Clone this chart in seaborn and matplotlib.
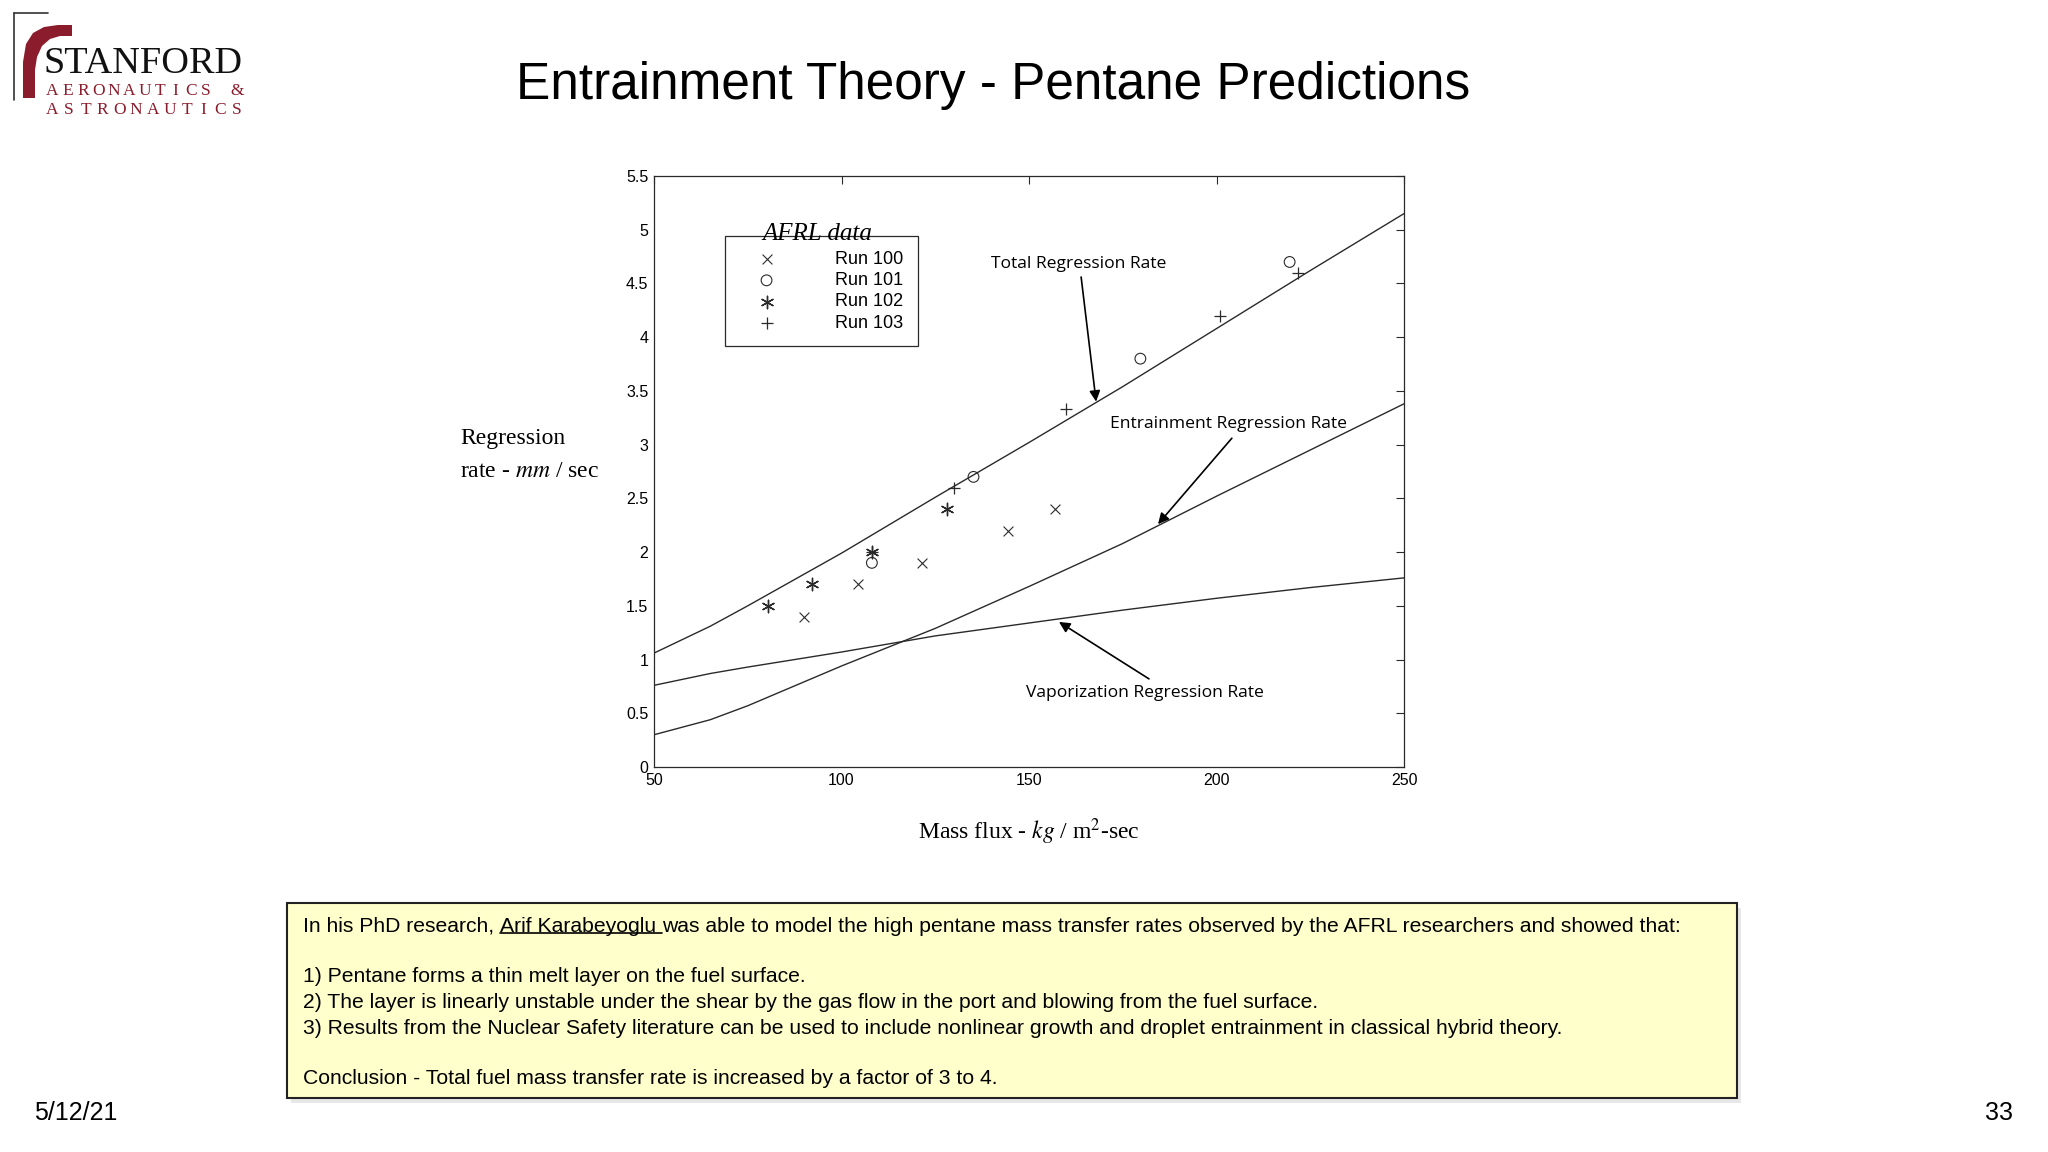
import numpy as np
import matplotlib
matplotlib.use("Agg")
import matplotlib.pyplot as plt
import seaborn as sns
from matplotlib.patches import Rectangle, Polygon
from matplotlib.lines import Line2D

# model curves
mass_flux = [50, 65, 75, 100, 125, 150, 175, 200, 225, 250]
vaporization = [0.76, 0.87, 0.93, 1.07, 1.22, 1.34, 1.46, 1.57, 1.67, 1.76]
entrainment = [0.30, 0.44, 0.57, 0.94, 1.29, 1.68, 2.08, 2.52, 2.95, 3.38]
total = [1.06, 1.31, 1.50, 1.99, 2.51, 3.02, 3.54, 4.08, 4.62, 5.15]

# AFRL data
run100_x = [90.1, 104.4, 121.4, 144.4, 156.8]
run100_y = [1.40, 1.70, 1.90, 2.20, 2.40]
run101_x = [108.1, 135.2, 179.7, 219.5]
run101_y = [1.90, 2.70, 3.80, 4.70]
run102_x = [80.5, 92.2, 108.0, 128.0]
run102_y = [1.50, 1.70, 2.00, 2.40]
run103_x = [108.0, 129.9, 159.9, 201.0, 221.6]
run103_y = [2.00, 2.60, 3.33, 4.20, 4.60]

x_ticks = [50, 100, 150, 200, 250]
y_ticks = [0, 0.5, 1, 1.5, 2, 2.5, 3, 3.5, 4, 4.5, 5, 5.5]

box_lines = [
    "1) Pentane forms a thin melt layer on the fuel surface.",
    "2) The layer is linearly unstable under the shear by the gas flow in the port and blowing from the fuel surface.",
    "3) Results from the Nuclear Safety literature can be used to include nonlinear growth and droplet entrainment in classical hybrid theory.",
]

sns.set_theme(style="white")
plt.rcParams["font.family"] = ["Liberation Sans", "DejaVu Sans"]
plt.rcParams["mathtext.fontset"] = "stix"
plt.rcParams["text.color"] = "black"

W, H = 2048, 1152
fig = plt.figure(figsize=(W / 100, H / 100), dpi=100)
fig.patch.set_facecolor("white")


def px(x, y):
    return x / W, 1 - y / H


ink = "#2a2a2a"
ax = fig.add_axes([654 / W, 1 - 767 / H, 750 / W, 591 / H])

for yy in [total, entrainment, vaporization]:
    sns.lineplot(x=mass_flux, y=yy, color=ink, lw=1.0, ax=ax, legend=False)

sns.scatterplot(x=run100_x, y=run100_y, marker="x", s=50, color=ink, linewidth=0.8, label="Run 100", ax=ax)
sns.scatterplot(x=run101_x, y=run101_y, marker="o", s=60, facecolor="none", edgecolor=ink, linewidth=0.8, label="Run 101", ax=ax)
sns.scatterplot(x=run102_x, y=run102_y, marker=(6, 2, 0), s=80, color=ink, linewidth=1.0, label="Run 102", ax=ax)
sns.scatterplot(x=run103_x, y=run103_y, marker="+", s=80, color=ink, linewidth=0.9, label="Run 103", ax=ax)

ax.set_xlim(50, 250)
ax.set_ylim(0, 5.5)
ax.set_xticks(x_ticks)
ax.set_xticklabels([f"{v:g}" for v in x_ticks])
ax.set_yticks(y_ticks)
ax.set_yticklabels([f"{v:g}" for v in y_ticks])
ax.tick_params(direction="in", top=True, right=True, length=6, width=0.8,
               color=ink, labelsize=11.5, pad=4, labelcolor="black")
for s in ax.spines.values():
    s.set_color(ink)
    s.set_linewidth(0.9)

ax.set_ylabel("Regression\nrate - $\\mathit{mm}$ / sec", rotation=0, ha="left", va="center",
              fontsize=17, family="Liberation Serif", linespacing=1.75, color="black")
ax.yaxis.set_label_coords(-0.2587, 0.528)
ax.set_xlabel("Mass flux - $\\mathit{kg}$ / m$^2$-sec", fontsize=17, family="Liberation Serif",
              color="black", va="center")
ax.xaxis.set_label_coords(0.5, -0.11)

leg = ax.legend(loc="upper left", bbox_to_anchor=(0.0947, 0.898), borderaxespad=0,
                frameon=True, fancybox=False, framealpha=1, edgecolor=ink,
                prop={"family": "Liberation Sans", "size": 13},
                borderpad=0.8, handlelength=3.0, handletextpad=2.3, labelspacing=0.24)
leg.get_frame().set_linewidth(0.9)
ax.text(0.2173, 0.902, "AFRL data", transform=ax.transAxes, ha="center", va="center",
        fontsize=18, family="Liberation Serif", style="italic", zorder=10)

arrow = dict(arrowstyle="-|>", color="black", lw=1.2, mutation_scale=16, shrinkA=0, shrinkB=0)
ann_font = dict(family="Open Sans", fontsize=12.6, ha="center", va="center")
ax.text(163.3, 4.68, "Total Regression Rate", **ann_font)
ax.annotate("", xy=(167.9, 3.40), xytext=(163.9, 4.56), arrowprops=arrow)
ax.text(203.3, 3.19, "Entrainment Regression Rate", **ann_font)
ax.annotate("", xy=(184.4, 2.26), xytext=(204.1, 3.06), arrowprops=arrow)
ax.text(180.9, 0.69, "Vaporization Regression Rate", **ann_font)
ax.annotate("", xy=(158.0, 1.35), xytext=(182.0, 0.82), arrowprops=arrow)

# title
fig.text(*px(993, 86), "Entrainment Theory - Pentane Predictions", ha="center", va="center",
         fontsize=37, family="Liberation Sans")

# logo
maroon = "#8a1c2b"
fig.add_artist(Line2D([14 / W, 14 / W], [1 - 13 / H, 1 - 100 / H], color="#333", lw=1.2))
fig.add_artist(Line2D([14 / W, 48 / W], [1 - 13 / H, 1 - 13 / H], color="#333", lw=1.2))
arch = [(23, 98), (23, 62), (26, 44), (33, 33), (44, 27), (58, 25), (72, 25),
        (72, 36), (60, 36), (50, 39), (42, 46), (37, 57), (35, 70), (35, 98)]
fig.add_artist(Polygon([px(a, b) for a, b in arch], closed=True, color=maroon, lw=0))
fig.text(*px(44, 73), "STANFORD", ha="left", va="baseline", fontsize=27.5,
         family="Liberation Serif", color="#111")
for row, yc in [("AERONAUTICS &", 91), ("ASTRONAUTICS", 110)]:
    xs = np.linspace(52, 237, len(row))
    for ch, xc in zip(row, xs):
        fig.text(*px(xc, yc), ch, ha="center", va="center", fontsize=12.5,
                 family="Liberation Serif", color=maroon)

# text box
fig.add_artist(Rectangle(px(291, 1103), 1450 / W, 195 / H, facecolor="#d8d8d8", edgecolor="none", alpha=0.6))
fig.add_artist(Rectangle(px(287, 1098), 1450 / W, 195 / H, facecolor="#ffffcc", edgecolor="#222", lw=1.5))
box_font = dict(fontsize=15.2, family="Liberation Sans", ha="left", va="center", color="black")
renderer = fig.canvas.get_renderer()
t1 = fig.text(*px(303, 926), "In his PhD research, ", **box_font)
bb = t1.get_window_extent(renderer)
t2 = fig.text(bb.x1 / W, 1 - 926 / H, "Arif Karabeyoglu ", **box_font)
bb2 = t2.get_window_extent(renderer)
fig.add_artist(Line2D([bb2.x0 / W, bb2.x1 / W], [(bb2.y0 + 3) / H] * 2, color="black", lw=1.2))
fig.text(bb2.x1 / W, 1 - 926 / H,
         "was able to model the high pentane mass transfer rates observed by the AFRL researchers and showed that:",
         **box_font)
for line, yy in zip(box_lines, [977, 1003, 1028]):
    fig.text(*px(303, yy), line, **box_font)
fig.text(*px(303, 1079), "Conclusion - Total fuel mass transfer rate is increased by a factor of 3 to 4.", **box_font)

# footer
fig.text(*px(34, 1113), "5/12/21", ha="left", va="center", fontsize=18, family="Liberation Sans")
fig.text(*px(2013, 1113), "33", ha="right", va="center", fontsize=18, family="Liberation Sans")

fig.savefig("out.png", dpi=100)
